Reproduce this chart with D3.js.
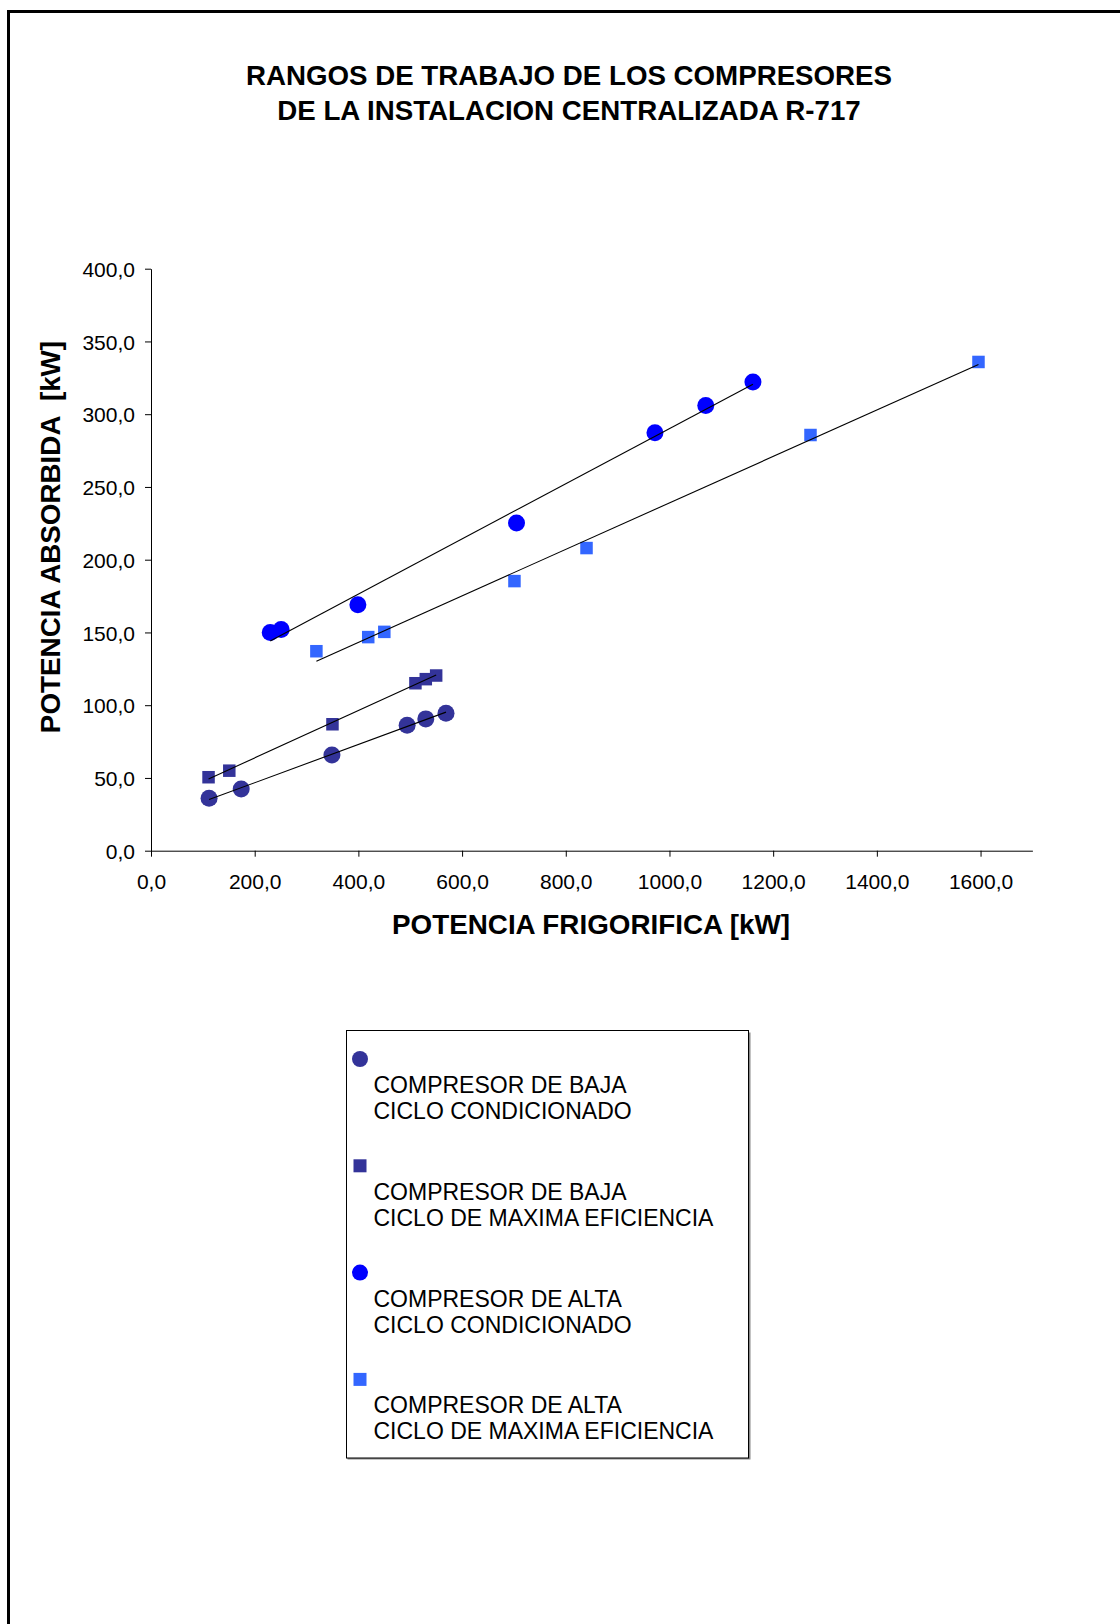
<!DOCTYPE html>
<html>
<head>
<meta charset="utf-8">
<script src="https://cdn.jsdelivr.net/npm/d3@7"></script>
<style>
  html, body { margin: 0; padding: 0; background: #fff; }
  svg { display: block; font-family: Arial, "Liberation Sans", sans-serif; }
</style>
</head>
<body>
<svg id="chart" width="1120" height="1624"></svg>
<script>
// Compressor operating ranges: cooling capacity (kW) vs absorbed power (kW)
const titleLines = ["RANGOS DE TRABAJO DE LOS COMPRESORES", "DE LA INSTALACION CENTRALIZADA R-717"];
const xAxisTitle = "POTENCIA FRIGORIFICA [kW]";
const yAxisTitle = "POTENCIA ABSORBIDA  [kW]";

const xTicks = [0, 200, 400, 600, 800, 1000, 1200, 1400, 1600];
const yTicks = [0, 50, 100, 150, 200, 250, 300, 350, 400];

// Low-stage compressor, conditioned cycle
const bajaCondX = [112, 174, 349, 494, 530, 569];
const bajaCondY = [36.0, 42.4, 65.8, 86.2, 90.6, 94.5];
// Low-stage compressor, maximum efficiency cycle
const bajaMaxX = [111, 151, 350, 510, 530, 550];
const bajaMaxY = [50.5, 55.0, 86.9, 115.1, 117.9, 120.4];
// High-stage compressor, conditioned cycle
const altaCondX = [230, 251, 399, 705, 972, 1070, 1161];
const altaCondY = [149.9, 152.0, 169.0, 225.2, 287.3, 306.0, 322.1];
// High-stage compressor, maximum efficiency cycle
const altaMaxX = [319, 419, 450, 701, 840, 1272, 1596];
const altaMaxY = [137.1, 146.8, 150.4, 185.3, 208.0, 285.7, 335.9];

const seriesNames = [
  ["COMPRESOR DE BAJA", "CICLO CONDICIONADO"],
  ["COMPRESOR DE BAJA", "CICLO DE MAXIMA EFICIENCIA"],
  ["COMPRESOR DE ALTA", "CICLO CONDICIONADO"],
  ["COMPRESOR DE ALTA", "CICLO DE MAXIMA EFICIENCIA"]
];
const seriesColors = ["#333399", "#333399", "#0000FF", "#3366FF"];
const seriesShapes = ["circle", "square", "circle", "square"];

const series = [
  { xs: bajaCondX, ys: bajaCondY },
  { xs: bajaMaxX, ys: bajaMaxY },
  { xs: altaCondX, ys: altaCondY },
  { xs: altaMaxX, ys: altaMaxY }
].map((s, i) => ({
  name: seriesNames[i],
  color: seriesColors[i],
  shape: seriesShapes[i],
  points: s.xs.map((x, j) => ({ x, y: s.ys[j] }))
}));

const svg = d3.select("#chart");

// outer frame
svg.append("rect")
  .attr("x", 8.5).attr("y", 11.5)
  .attr("width", 1300).attr("height", 1800)
  .attr("fill", "none").attr("stroke", "#000").attr("stroke-width", 3);

// title
svg.append("g").selectAll("text")
  .data(titleLines)
  .join("text")
  .attr("x", 569)
  .attr("y", (d, i) => 85 + i * 35)
  .attr("text-anchor", "middle")
  .attr("font-size", 27.7)
  .attr("font-weight", "bold")
  .text(d => d);

const x = d3.scaleLinear().domain([0, 1700]).range([151, 1032.4]);
const y = d3.scaleLinear().domain([0, 400]).range([850.7, 268.7]);

const fmt = d => d3.format(".1f")(d).replace(".", ",");

const xAxis = svg.append("g")
  .attr("transform", `translate(0,${y(0)})`)
  .call(d3.axisBottom(x).tickValues(xTicks).tickFormat(fmt).tickSizeInner(6).tickSizeOuter(0).tickPadding(17));
const yAxis = svg.append("g")
  .attr("transform", `translate(${x(0)},0)`)
  .call(d3.axisLeft(y).tickValues(yTicks).tickFormat(fmt).tickSizeInner(6).tickSizeOuter(0).tickPadding(10));

[xAxis, yAxis].forEach(a => {
  a.select(".domain").attr("stroke", "#000");
  a.selectAll(".tick line").attr("stroke", "#000");
  a.selectAll(".tick text")
    .attr("font-size", 21)
    .attr("font-family", "Arial, 'Liberation Sans', sans-serif")
    .attr("fill", "#000");
});
yAxis.selectAll(".tick text").attr("dy", "0.36em");
xAxis.selectAll(".tick text").attr("dy", "0.71em");

// axis titles
svg.append("text")
  .attr("x", 591).attr("y", 934)
  .attr("text-anchor", "middle")
  .attr("font-size", 27.8).attr("font-weight", "bold")
  .text(xAxisTitle);
svg.append("text")
  .attr("transform", "translate(59.5,537) rotate(-90)")
  .attr("text-anchor", "middle")
  .attr("font-size", 27.8).attr("font-weight", "bold")
  .attr("xml:space", "preserve")
  .style("white-space", "pre")
  .text(yAxisTitle);

// markers
const CIRCLE_R = 8.5, SQUARE = 12.5;
function drawMarker(sel, shape, color, r, s) {
  if (shape === "circle") {
    sel.append("circle").attr("r", r).attr("fill", color);
  } else {
    sel.append("rect").attr("x", -s / 2).attr("y", -s / 2)
      .attr("width", s).attr("height", s).attr("fill", color);
  }
}

const plot = svg.append("g");
series.forEach(s => {
  s.points.forEach(p => {
    const g = plot.append("g").attr("transform", `translate(${x(p.x)},${y(p.y)})`);
    drawMarker(g, s.shape, s.color, CIRCLE_R, SQUARE);
  });
});

// linear trend lines (least squares) over each series' range
series.forEach(s => {
  const mx = d3.mean(s.points, p => p.x), my = d3.mean(s.points, p => p.y);
  const sxy = d3.sum(s.points, p => (p.x - mx) * (p.y - my));
  const sxx = d3.sum(s.points, p => (p.x - mx) ** 2);
  const b = sxy / sxx, a = my - b * mx;
  const [x0, x1] = d3.extent(s.points, p => p.x);
  plot.append("line")
    .attr("x1", x(x0)).attr("y1", y(a + b * x0))
    .attr("x2", x(x1)).attr("y2", y(a + b * x1))
    .attr("stroke", "#000").attr("stroke-width", 1.1);
});

// legend
const legend = svg.append("g");
legend.append("rect")
  .attr("x", 347.5).attr("y", 1032.5).attr("width", 403).attr("height", 427)
  .attr("fill", "#888");
legend.append("rect")
  .attr("x", 346.5).attr("y", 1030.5).attr("width", 402).attr("height", 427.5)
  .attr("fill", "#fff").attr("stroke", "#000").attr("stroke-width", 1);

series.forEach((s, i) => {
  const top = 1059 + i * 106.8;
  const g = legend.append("g").attr("transform", `translate(360,${top})`);
  drawMarker(g, s.shape, s.color, 8, 13);
  legend.append("g").selectAll("text")
    .data(s.name)
    .join("text")
    .attr("x", 373.5)
    .attr("y", (d, j) => top + 34 + j * 26)
    .attr("font-size", 23)
    .text(d => d);
});
</script>
</body>
</html>
